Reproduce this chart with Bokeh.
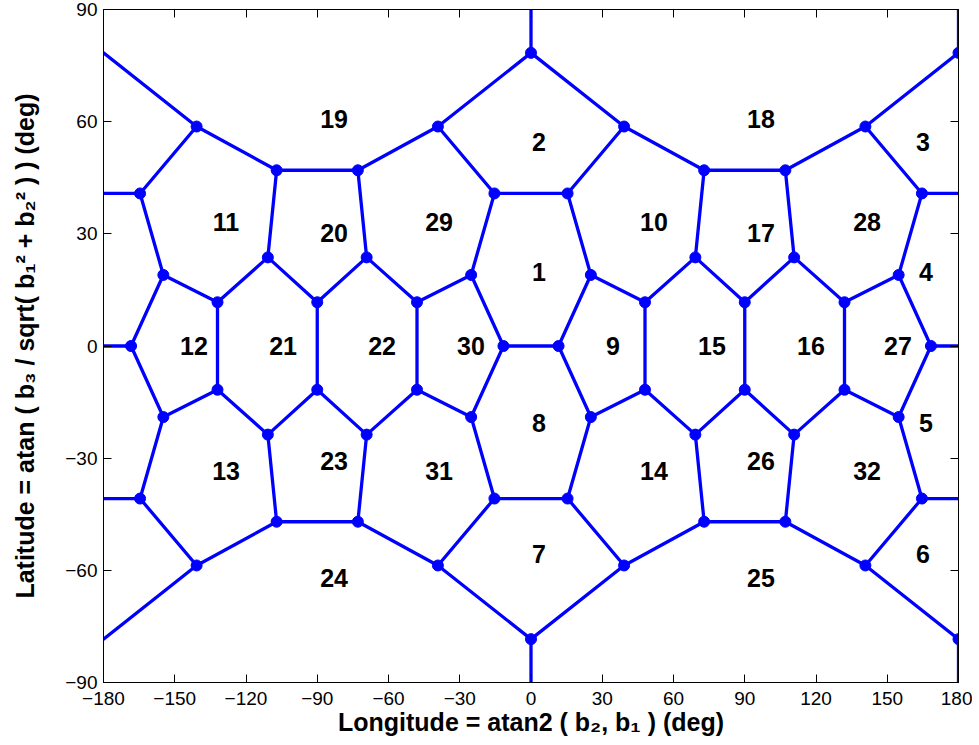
from bokeh.plotting import figure
from bokeh.models import Range1d, FixedTicker, LinearAxis, ColumnDataSource
from bokeh.embed import file_html
from bokeh.resources import INLINE
from bokeh.core.properties import value

# ---- data ----
node_lon = [
    0, 180, -180, 0, 180,
    -140.8, -39.2, 39.2, 140.8,
    -107.1, -72.9, 72.9, 107.1,
    -164.6, -15.4, 15.4, 164.6, -180, 180,
    -110.8, -69.2, 69.2, 110.8,
    -154.8, -25.2, 25.2, 154.8,
    -132, -90, -48, 48, 90, 132,
    -168.4, -11.6, 11.6, 168.4, -180, 180,
    -132, -90, -48, 48, 90, 132,
    -154.8, -25.2, 25.2, 154.8,
    -110.8, -69.2, 69.2, 110.8,
    -164.6, -15.4, 15.4, 164.6, -180, 180,
    -107.1, -72.9, 72.9, 107.1,
    -140.8, -39.2, 39.2, 140.8,
    0, 180, -180, 0, 180,
]
node_lat = [
    78.4, 78.4, 78.4, 90, 90,
    58.7, 58.7, 58.7, 58.7,
    47, 47, 47, 47,
    40.8, 40.8, 40.8, 40.8, 40.8, 40.8,
    23.7, 23.7, 23.7, 23.7,
    19, 19, 19, 19,
    11.7, 11.7, 11.7, 11.7, 11.7, 11.7,
    0, 0, 0, 0, 0, 0,
    -11.7, -11.7, -11.7, -11.7, -11.7, -11.7,
    -19, -19, -19, -19,
    -23.7, -23.7, -23.7, -23.7,
    -40.8, -40.8, -40.8, -40.8, -40.8, -40.8,
    -47, -47, -47, -47,
    -58.7, -58.7, -58.7, -58.7,
    -78.4, -78.4, -78.4, -90, -90,
]
# nodes that are only border points (no marker)
border_nodes = [2, 3, 4, 17, 18, 37, 38, 57, 58, 69, 70, 71]

edges = [
    (3, 0), (4, 1), (0, 6), (0, 7), (1, 8), (2, 5),
    (5, 13), (5, 9), (6, 10), (6, 14), (7, 15), (7, 11), (8, 12), (8, 16),
    (9, 10), (11, 12), (14, 15), (17, 13), (16, 18),
    (13, 23), (9, 19), (10, 20), (14, 24), (15, 25), (11, 21), (12, 22), (16, 26),
    (23, 27), (19, 27), (19, 28), (20, 28), (20, 29), (24, 29), (25, 30), (21, 30),
    (21, 31), (22, 31), (22, 32), (26, 32),
    (23, 33), (24, 34), (25, 35), (26, 36),
    (37, 33), (34, 35), (36, 38),
    (27, 39), (28, 40), (29, 41), (30, 42), (31, 43), (32, 44),
    (45, 33), (46, 34), (47, 35), (48, 36),
    (45, 39), (49, 39), (49, 40), (50, 40), (50, 41), (46, 41), (47, 42), (51, 42),
    (51, 43), (52, 43), (52, 44), (48, 44),
    (53, 45), (59, 49), (60, 50), (54, 46), (55, 47), (61, 51), (62, 52), (56, 48),
    (59, 60), (61, 62), (54, 55), (57, 53), (56, 58),
    (63, 53), (63, 59), (64, 60), (64, 54), (65, 55), (65, 61), (66, 62), (66, 56),
    (67, 64), (67, 65), (68, 66), (69, 63), (70, 67), (71, 68),
]

cell_id = ["19", "2", "18", "3", "11", "20", "29", "1", "10", "17", "28", "4",
           "12", "21", "22", "30", "9", "15", "16", "27",
           "8", "5", "13", "23", "31", "14", "26", "32", "7", "6", "24", "25"]
cell_lon = [-82.9, 3.4, 96.8, 165, -128.4, -82.9, -38.7, 3.4, 51.8, 96.8, 141.5, 166.3,
            -141.9, -104.4, -62.7, -25.3, 34.5, 76.2, 117.9, 154.5,
            3.4, 166.3, -128.4, -82.9, -38.7, 51.8, 96.8, 141.5, 3.4, 165, -82.9, 96.8]
cell_lat = [60.7, 54.5, 60.7, 54.5, 33.2, 30.3, 33.2, 19.9, 33.2, 30.3, 33.2, 19.9,
            0, 0, 0, 0, 0, 0, 0, 0,
            -20.7, -20.7, -33.5, -30.8, -33.5, -33.5, -30.8, -33.5, -55.6, -55.6, -62, -62]

x_ticks = [-180, -150, -120, -90, -60, -30, 0, 30, 60, 90, 120, 150, 180]
y_ticks = [-90, -60, -30, 0, 30, 60, 90]

# ---- figure ----
BLUE = "#0000FF"
FONT = "Liberation Sans"

p = figure(frame_width=855, frame_height=673,
           x_range=Range1d(-180, 180), y_range=Range1d(-90, 90),
           output_backend="svg", toolbar_location=None,
           min_border_left=103, min_border_right=14, min_border_top=9, min_border_bottom=55,
           background_fill_color="white", border_fill_color="white",
           outline_line_color="black", outline_line_width=1)
p.grid.visible = False

seg = ColumnDataSource(dict(
    x0=[node_lon[a] for a, b in edges], y0=[node_lat[a] for a, b in edges],
    x1=[node_lon[b] for a, b in edges], y1=[node_lat[b] for a, b in edges]))
p.segment("x0", "y0", "x1", "y1", source=seg, line_color=BLUE, line_width=3.3, line_cap="round")

dots = ColumnDataSource(dict(
    x=[node_lon[i] for i in range(len(node_lon)) if i not in border_nodes],
    y=[node_lat[i] for i in range(len(node_lat)) if i not in border_nodes]))
p.scatter("x", "y", source=dots, size=11, fill_color=BLUE, line_color=BLUE)

lab = ColumnDataSource(dict(x=cell_lon, y=cell_lat, t=cell_id))
p.text("x", "y", text="t", source=lab, text_align="center", text_baseline="middle",
       text_font=value(FONT), text_font_style="bold", text_font_size="25px", text_color="black")

# axes
for ax in (p.xaxis[0], p.yaxis[0]):
    ax.major_tick_in = 8
    ax.major_tick_out = 0
    ax.minor_tick_line_color = None
    ax.axis_line_color = "black"
    ax.major_tick_line_color = "black"
    ax.major_label_text_font = FONT
    ax.major_label_text_font_size = "19px"
    ax.major_label_text_color = "black"
    ax.axis_label_text_font = FONT
    ax.axis_label_text_font_style = "bold"
    ax.axis_label_text_font_size = "25px"
    ax.axis_label_text_color = "black"

p.xaxis[0].ticker = FixedTicker(ticks=x_ticks)
p.yaxis[0].ticker = FixedTicker(ticks=y_ticks)
p.xaxis[0].major_label_standoff = 9
p.yaxis[0].major_label_standoff = 6
p.xaxis[0].axis_label = "Longitude = atan2 ( b\u2082, b\u2081 ) (deg)"
p.yaxis[0].axis_label = "Latitude = atan ( b\u2083 / sqrt( b\u2081\u00b2 + b\u2082\u00b2 ) ) (deg)"
p.xaxis[0].axis_label_standoff = 0
p.yaxis[0].axis_label_standoff = 23

top = LinearAxis(ticker=FixedTicker(ticks=x_ticks))
right = LinearAxis(ticker=FixedTicker(ticks=y_ticks))
for ax in (top, right):
    ax.major_tick_in = 8
    ax.major_tick_out = 0
    ax.minor_tick_line_color = None
    ax.axis_line_color = "black"
    ax.major_tick_line_color = "black"
    ax.major_label_text_font_size = "0px"
    ax.major_label_standoff = 0
    ax.major_label_text_color = None
p.add_layout(top, "above")
p.add_layout(right, "right")

open("out.html", "w").write(file_html(p, INLINE))
